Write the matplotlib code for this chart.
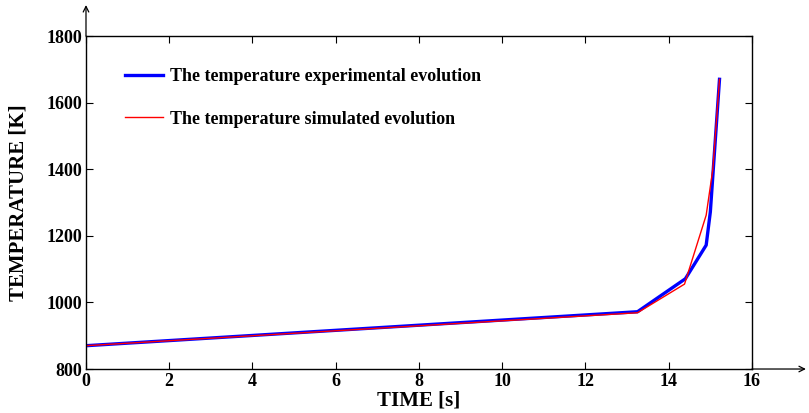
import matplotlib.pyplot as plt

# data
time_exp = [0, 13.25, 14.4, 14.9, 15.0, 15.22]
temp_exp = [870, 972, 1071, 1172, 1272, 1670]

time_sim = [0, 13.25, 14.38, 14.9, 15.06, 15.22]
temp_sim = [870, 969, 1055, 1262, 1400, 1670]

label_exp = 'The temperature experimental evolution'
label_sim = 'The temperature simulated evolution'

xticks = [0, 2, 4, 6, 8, 10, 12, 14, 16]
yticks = [800, 1000, 1200, 1400, 1600, 1800]

plt.rcParams['font.family'] = ['Liberation Serif', 'DejaVu Serif']
plt.rcParams['font.weight'] = 'bold'

f = plt.figure(figsize=(8.09, 4.13), dpi=100)
ax = f.add_axes([0.1063, 0.1065, 0.8232, 0.8063])

ax.plot(time_exp, temp_exp, color='blue', linewidth=2.4, label=label_exp)
ax.plot(time_sim, temp_sim, color='red', linewidth=1.0, label=label_sim)

ax.set_xlim(0, 16)
ax.set_ylim(800, 1800)
ax.set_xticks(xticks)
ax.set_yticks(yticks)
ax.tick_params(direction='in', length=5, width=0.8, top=True, right=True,
               labelsize=13, pad=3)
for lab in ax.get_xticklabels() + ax.get_yticklabels():
    lab.set_fontweight('bold')
for s in ax.spines.values():
    s.set_linewidth(1.0)

ax.set_xlabel('TIME [s]', fontsize=15, fontweight='bold', labelpad=0)
ax.set_ylabel('TEMPERATURE [K]', fontsize=15, fontweight='bold', labelpad=13)

leg = ax.legend(loc='upper left', bbox_to_anchor=(0.045, 0.93), frameon=False,
                fontsize=13, handlelength=2.1, labelspacing=1.4,
                handletextpad=0.4, borderpad=0)
for t in leg.get_texts():
    t.set_fontweight('bold')

# axis arrows
ax.annotate('', xy=(0, 1.093), xytext=(0, 1.0), xycoords='axes fraction',
            arrowprops=dict(arrowstyle='->', color='black', lw=0.9,
                            shrinkA=0, shrinkB=0), annotation_clip=False)
ax.annotate('', xy=(1.081, 0), xytext=(1.0, 0), xycoords='axes fraction',
            arrowprops=dict(arrowstyle='->', color='black', lw=0.9,
                            shrinkA=0, shrinkB=0), annotation_clip=False)

plt.savefig('out.png', dpi=100)
